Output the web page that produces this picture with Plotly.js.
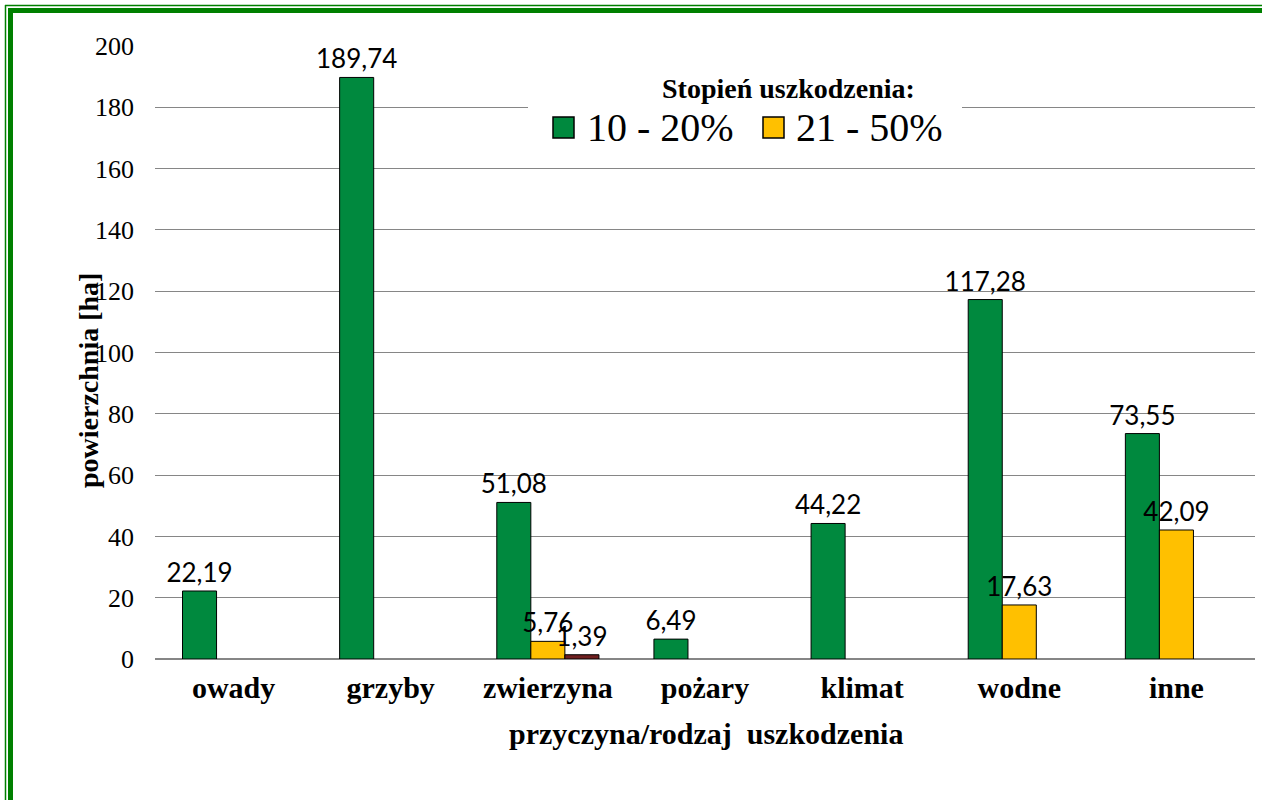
<!DOCTYPE html>
<html>
<head>
<meta charset="utf-8">
<script src="https://cdn.plot.ly/plotly-3.0.1.min.js"></script>
<style>
html,body{margin:0;padding:0;background:#fff;}
#chart{width:1262px;height:800px;}
</style>
</head>
<body>
<div id="chart"></div>
<script>
// ---- data ----
const categories = ["owady", "grzyby", "zwierzyna", "pożary", "klimat", "wodne", "inne"];
const series1Name = "10 - 20%";
const series1 = [22.19, 189.74, 51.08, 6.49, 44.22, 117.28, 73.55];
const series2Name = "21 - 50%";
const series2 = [null, null, 5.76, null, null, 17.63, 42.09];
const series3Name = "> 50%";
const series3 = [null, null, 1.39, null, null, null, null];
const yTicks = [0, 20, 40, 60, 80, 100, 120, 140, 160, 180, 200];
const legendTitle = "Stopień uszkodzenia:";

const W = 1262, H = 800;
const M = {l: 155, r: 7, t: 46, b: 141};
const pw = W - M.l - M.r, ph = H - M.t - M.b;
const px = x => (x - M.l) / pw;
const py = y => 1 - (y - M.t) / ph;

const green = "#00893E", yellow = "#FFC000", brown = "#702020", border = "#008000";
const serif = "'Liberation Serif', 'Times New Roman', Times, Tinos, 'Nimbus Roman', 'FreeSerif', 'Noto Serif', 'DejaVu Serif', serif";
const labelFont = {family: "Lato", size: 26, color: "#000"};

function barTrace(name, vals, color) {
  return {
    type: "bar", name: name, x: categories, y: vals,
    marker: {color: color, line: {color: "#000", width: 1}},
    texttemplate: "%{y:.2f}", textposition: "outside",
    textfont: labelFont, constraintext: "none", cliponaxis: false,
    showlegend: false, hoverinfo: "x+y+name"
  };
}

const data = [
  barTrace(series1Name, series1, green),
  barTrace(series2Name, series2, yellow),
  barTrace(series3Name, series3, brown)
];

function line(x0, y0, x1, y1, w) {
  return {type: "line", xref: "paper", yref: "paper", x0: px(x0), y0: py(y0), x1: px(x1), y1: py(y1),
          line: {color: border, width: w}, layer: "above"};
}
function rect(x0, y0, x1, y1, fill, lw, lc) {
  return {type: "rect", xref: "paper", yref: "paper", x0: px(x0), y0: py(y0), x1: px(x1), y1: py(y1),
          fillcolor: fill, line: {color: lc, width: lw}, layer: "above"};
}
function note(text, x, y, size, anchor, extra) {
  return Object.assign({text: text, xref: "paper", yref: "paper", x: px(x), y: py(y),
    xanchor: anchor, yanchor: "middle", showarrow: false,
    font: {family: serif, size: size, color: "#000"}}, extra || {});
}

const layout = {
  width: W, height: H,
  margin: M,
  paper_bgcolor: "#fff", plot_bgcolor: "#fff",
  separators: ", ",
  barmode: "group", bargap: 0.35, bargroupgap: 0,
  font: {family: serif, color: "#000"},
  showlegend: false,
  xaxis: {
    type: "category", showgrid: false, showline: false, zeroline: false,
    tickfont: {family: serif, size: 30, color: "#000", weight: "bold"},
    ticks: "", ticklabelstandoff: 8, fixedrange: true
  },
  yaxis: {
    range: [0, 200], tickvals: yTicks, ticktext: yTicks.map(String),
    showgrid: true, gridcolor: "#868686", gridwidth: 1,
    zeroline: true, zerolinecolor: "#868686", zerolinewidth: 2,
    showline: false, ticks: "", ticklabelstandoff: 20,
    tickfont: {family: serif, size: 26, color: "#000"}, fixedrange: true
  },
  annotations: [
    note("<b>przyczyna/rodzaj  uszkodzenia</b>", 706, 733, 30, "center"),
    note("<b>powierzchnia [ha]</b>", 88, 381, 28, "center", {textangle: -90}),
    note("<b>" + legendTitle + "</b>", 788, 88, 28, "center"),
    note(series1Name, 585, 128, 40, "left"),
    note(series2Name, 794, 128, 40, "left")
  ],
  shapes: [
    rect(528, 62, 962, 150, "#fff", 0, "#fff"),
    rect(553, 117, 574, 138, green, 1.5, "#000"),
    rect(763, 117, 784, 138, yellow, 1.5, "#000"),
    line(5.5, 5, 5.5, 800, 1.5),
    line(10.5, 8, 10.5, 800, 5),
    line(5, 5.5, 1262, 5.5, 1.5),
    line(8, 10.5, 1262, 10.5, 5)
  ]
};

Plotly.newPlot("chart", data, layout, {displayModeBar: false, staticPlot: true});
</script>
</body>
</html>
